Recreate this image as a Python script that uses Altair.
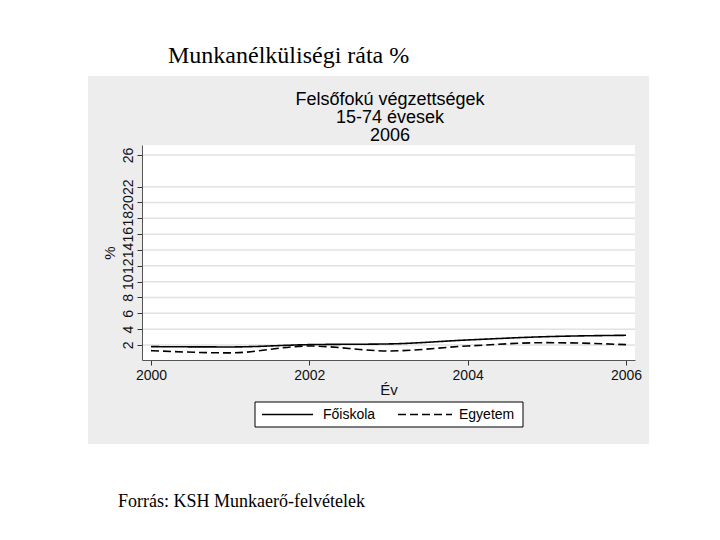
import altair as alt
import pandas as pd

# ---- data ----
years = [2000, 2001, 2002, 2003, 2004, 2005, 2006]
foiskola = [1.79, 1.75, 2.04, 2.13, 2.63, 3.05, 3.22]
egyetem = [1.28, 1.00, 1.87, 1.24, 1.87, 2.29, 2.04]
series_names = ["Főiskola", "Egyetem"]
y_ticks = [2, 4, 6, 8, 10, 12, 14, 16, 18, 20, 22, 26]
x_ticks = [2000, 2002, 2004, 2006]
title_lines = ["Felsőfokú végzettségek", "15-74 évesek", "2006"]
top_text = ["Munkanélküliségi ráta %"]
source_text = ["Forrás: KSH Munkaerő-felvételek"]

df = pd.DataFrame({
    "Év": years + years,
    "value": foiskola + egyetem,
    "series": [series_names[0]] * len(years) + [series_names[1]] * len(years),
})

# plot area geometry (pixels)
W, H = 493, 215
OX, OY = 142, 145  # page position of plot origin

xscale = alt.Scale(domain=[1999.886, 2006.114], nice=False, zero=False)
yscale = alt.Scale(domain=[0.1, 27.26], nice=False, zero=False)
dash_scale = alt.Scale(domain=series_names, range=[[1, 0], [8, 4]])

one = pd.DataFrame({"k": [0]})
SANS = "Liberation Sans"
SERIF = "Liberation Serif"

yaxis = alt.Axis(
    values=y_ticks, title="%", grid=False,
    domainColor="#555555", tickColor="#333333", tickSize=5,
    labelFont=SANS, labelFontSize=14, labelColor="#111111",
    labelAngle=270, labelAlign="center", labelBaseline="alphabetic",
    labelPadding=5, labelOverlap=False, labelFlush=False, labelBound=False,
    titleFont=SANS, titleFontSize=15, titleFontWeight="normal",
    titleColor="#111111", titlePadding=4, zindex=1,
)
xaxis = alt.Axis(
    values=x_ticks, format="d", title="Év", grid=False,
    domainColor="#555555", tickColor="#333333", tickSize=5,
    labelFont=SANS, labelFontSize=14, labelColor="#111111",
    labelPadding=3, labelOverlap=False, labelFlush=False,
    titleFont=SANS, titleFontSize=15, titleFontWeight="normal",
    titleColor="#111111", titlePadding=0, zindex=1,
)

gray_box = alt.Chart(one).mark_rect(color="#EDEDED").encode(
    x=alt.value(88 - OX), x2=alt.value(649 - OX),
    y=alt.value(76 - OY), y2=alt.value(444 - OY),
)
white_box = alt.Chart(one).mark_rect(color="white").encode(
    x=alt.value(0), x2=alt.value(W), y=alt.value(0), y2=alt.value(H),
)
grid = alt.Chart(pd.DataFrame({"value": y_ticks})).mark_rule(
    color="#E2E2E2", strokeWidth=1.5
).encode(
    y=alt.Y("value:Q", scale=yscale, axis=yaxis),
    x=alt.value(0), x2=alt.value(W),
)

lines = alt.Chart(df).mark_line(
    interpolate="monotone", strokeWidth=1.6, color="black"
).encode(
    x=alt.X("Év:Q", scale=xscale, axis=xaxis),
    y=alt.Y("value:Q", scale=yscale, axis=yaxis),
    strokeDash=alt.StrokeDash("series:N", scale=dash_scale, legend=None),
)

# inner (graph) title
title = alt.Chart(one).mark_text(
    text=title_lines, font=SANS, fontSize=18, lineHeight=18,
    align="center", baseline="alphabetic", color="black",
).encode(x=alt.value(390 - OX), y=alt.value(105 - OY))

# legend box
leg_box = alt.Chart(one).mark_rect(
    fill="white", stroke="black", strokeWidth=1
).encode(
    x=alt.value(255 - OX), x2=alt.value(523 - OX),
    y=alt.value(402 - OY), y2=alt.value(427 - OY),
)
legend_layers = []
leg_pos = [(262, 313, 323), (398, 452, 459)]
for name, (s0, s1, tx) in zip(series_names, leg_pos):
    d = pd.DataFrame({"series": [name]})
    legend_layers.append(
        alt.Chart(d).mark_rule(strokeWidth=1.5, color="black").encode(
            x=alt.value(s0 - OX), x2=alt.value(s1 - OX), y=alt.value(414.5 - OY),
            strokeDash=alt.StrokeDash("series:N", scale=dash_scale, legend=None),
        )
    )
    legend_layers.append(
        alt.Chart(d).mark_text(
            font=SANS, fontSize=14, align="left", baseline="middle", color="black"
        ).encode(text="series:N", x=alt.value(tx - OX), y=alt.value(415 - OY))
    )

top = alt.Chart(pd.DataFrame({"t": top_text})).mark_text(
    font=SERIF, fontSize=24, align="left", baseline="alphabetic", color="black"
).encode(text="t:N", x=alt.value(168 - OX), y=alt.value(63 - OY))

source = alt.Chart(pd.DataFrame({"t": source_text})).mark_text(
    font=SERIF, fontSize=18, align="left", baseline="alphabetic", color="black"
).encode(text="t:N", x=alt.value(118 - OX), y=alt.value(507 - OY))

chart = alt.layer(
    gray_box, white_box, grid, lines, title, leg_box, *legend_layers, top, source
).properties(
    width=W, height=H,
    autosize=alt.AutoSizeParams(type="none"),
    padding={"left": OX - 8, "top": OY - 8, "right": 70, "bottom": 170},
    background="white",
).configure_view(strokeWidth=0)

chart.save("out.html", embed_options={"renderer": "svg", "actions": False})
